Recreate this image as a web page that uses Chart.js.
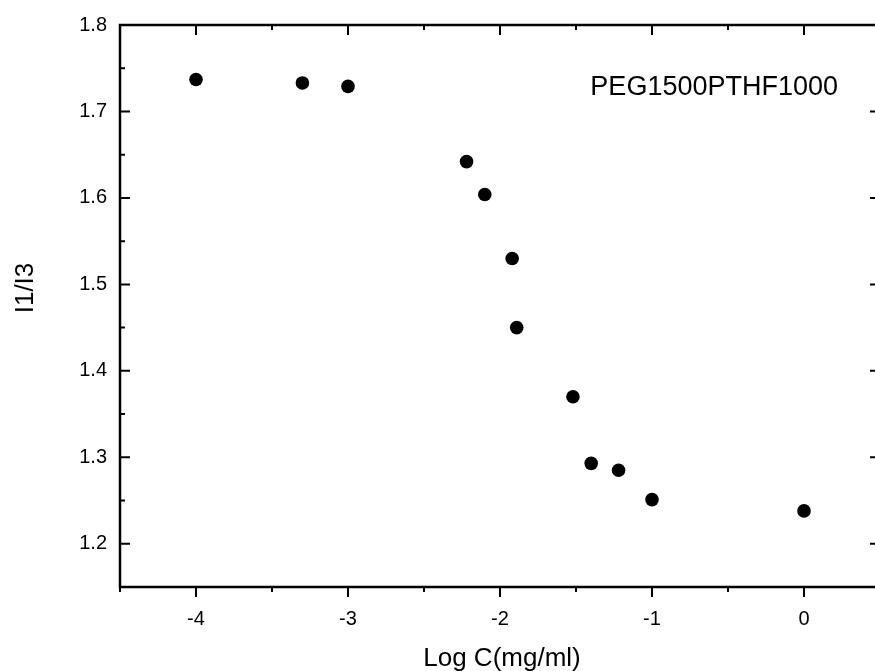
<!DOCTYPE html>
<html>
<head>
<meta charset="utf-8">
<script src="https://cdn.jsdelivr.net/npm/chart.js@4.4.0/dist/chart.umd.min.js"></script>
<style>
html, body { margin: 0; padding: 0; background: #fff; overflow: hidden; }
canvas { display: block; }
</style>
</head>
<body>
<canvas id="myScatterChart" width="890" height="671"></canvas>
<script>
// values
var logC = [-4, -3.3, -3, -2.22, -2.1, -1.92, -1.89, -1.52, -1.4, -1.22, -1, 0];
var ratioI1I3 = [1.737, 1.733, 1.729, 1.642, 1.604, 1.530, 1.450, 1.370, 1.293, 1.285, 1.251, 1.238];
var xTicks = [-4, -3, -2, -1, 0];
var xMinorTicks = [-4.5, -3.5, -2.5, -1.5, -0.5, 0.5];
var yTicks = [1.2, 1.3, 1.4, 1.5, 1.6, 1.7, 1.8];
var yMinorTicks = [1.15, 1.25, 1.35, 1.45, 1.55, 1.65, 1.75];
var seriesName = 'PEG1500PTHF1000';
var xTitle = 'Log C(mg/ml)';
var yTitle = 'I1/I3';

var fontFamily = '"Liberation Sans", Arial, sans-serif';
Chart.defaults.font.family = fontFamily;
Chart.defaults.color = '#000';

var points = logC.map(function (x, i) { return { x: x, y: ratioI1I3[i] }; });

// frame with inward ticks (bottom ones point out), plus the titles
var frameAndTitles = {
  id: 'frameAndTitles',
  afterDraw: function (chart) {
    var ctx = chart.ctx;
    var a = chart.chartArea;
    var xs = chart.scales.x;
    var ys = chart.scales.y;
    ctx.save();
    ctx.strokeStyle = '#000';
    ctx.lineWidth = 2.5;
    ctx.strokeRect(a.left, a.top, a.right - a.left, a.bottom - a.top);

    ctx.lineWidth = 2;
    function xTick(v, len) {
      var px = xs.getPixelForValue(v);
      ctx.beginPath();
      ctx.moveTo(px, a.bottom); ctx.lineTo(px, a.bottom + len);
      ctx.moveTo(px, a.top); ctx.lineTo(px, a.top + len);
      ctx.stroke();
    }
    function yTick(v, len) {
      var py = ys.getPixelForValue(v);
      ctx.beginPath();
      ctx.moveTo(a.left, py); ctx.lineTo(a.left + len, py);
      ctx.moveTo(a.right, py); ctx.lineTo(a.right - len, py);
      ctx.stroke();
    }
    xTicks.forEach(function (v) { xTick(v, 10); });
    xMinorTicks.forEach(function (v) { xTick(v, 5); });
    yTicks.forEach(function (v) { yTick(v, 10); });
    yMinorTicks.forEach(function (v) { yTick(v, 5); });

    ctx.fillStyle = '#000';
    ctx.font = '27px ' + fontFamily;
    ctx.textAlign = 'right';
    ctx.textBaseline = 'alphabetic';
    ctx.fillText(seriesName, 838, 95);

    ctx.font = '26px ' + fontFamily;
    ctx.textAlign = 'center';
    ctx.fillText(xTitle, (a.left + a.right) / 2 + 2, 666);

    ctx.translate(33, 288);
    ctx.rotate(-Math.PI / 2);
    ctx.fillText(yTitle, 0, 0);
    ctx.restore();
  }
};

var ctx = document.getElementById('myScatterChart').getContext('2d');
window.myScatterChart = new Chart(ctx, {
  type: 'scatter',
  data: {
    datasets: [{
      label: seriesName,
      data: points,
      backgroundColor: '#000',
      borderColor: '#000',
      borderWidth: 0,
      pointRadius: 6.8,
      pointHoverRadius: 6.8
    }]
  },
  options: {
    responsive: false,
    animation: false,
    layout: { padding: { left: 0, top: 22, right: 10, bottom: 0 } },
    plugins: {
      legend: { display: false },
      tooltip: { enabled: false }
    },
    scales: {
      x: {
        type: 'linear',
        min: -4.5,
        max: 0.5,
        grid: { display: false, drawTicks: false },
        border: { display: false },
        afterFit: function (scale) { scale.height = 84; },
        afterBuildTicks: function (scale) {
          scale.ticks = xTicks.map(function (v) { return { value: v }; });
        },
        ticks: {
          padding: 20,
          font: { size: 20 },
          maxRotation: 0,
          callback: function (v) { return String(v); }
        }
      },
      y: {
        type: 'linear',
        min: 1.15,
        max: 1.8,
        grid: { display: false, drawTicks: false },
        border: { display: false },
        afterFit: function (scale) { scale.width = 120; },
        afterBuildTicks: function (scale) {
          scale.ticks = yTicks.map(function (v) { return { value: v }; });
        },
        ticks: {
          padding: 13,
          font: { size: 20 },
          callback: function (v) { return v.toFixed(1); }
        }
      }
    }
  },
  plugins: [frameAndTitles]
});
</script>
</body>
</html>
